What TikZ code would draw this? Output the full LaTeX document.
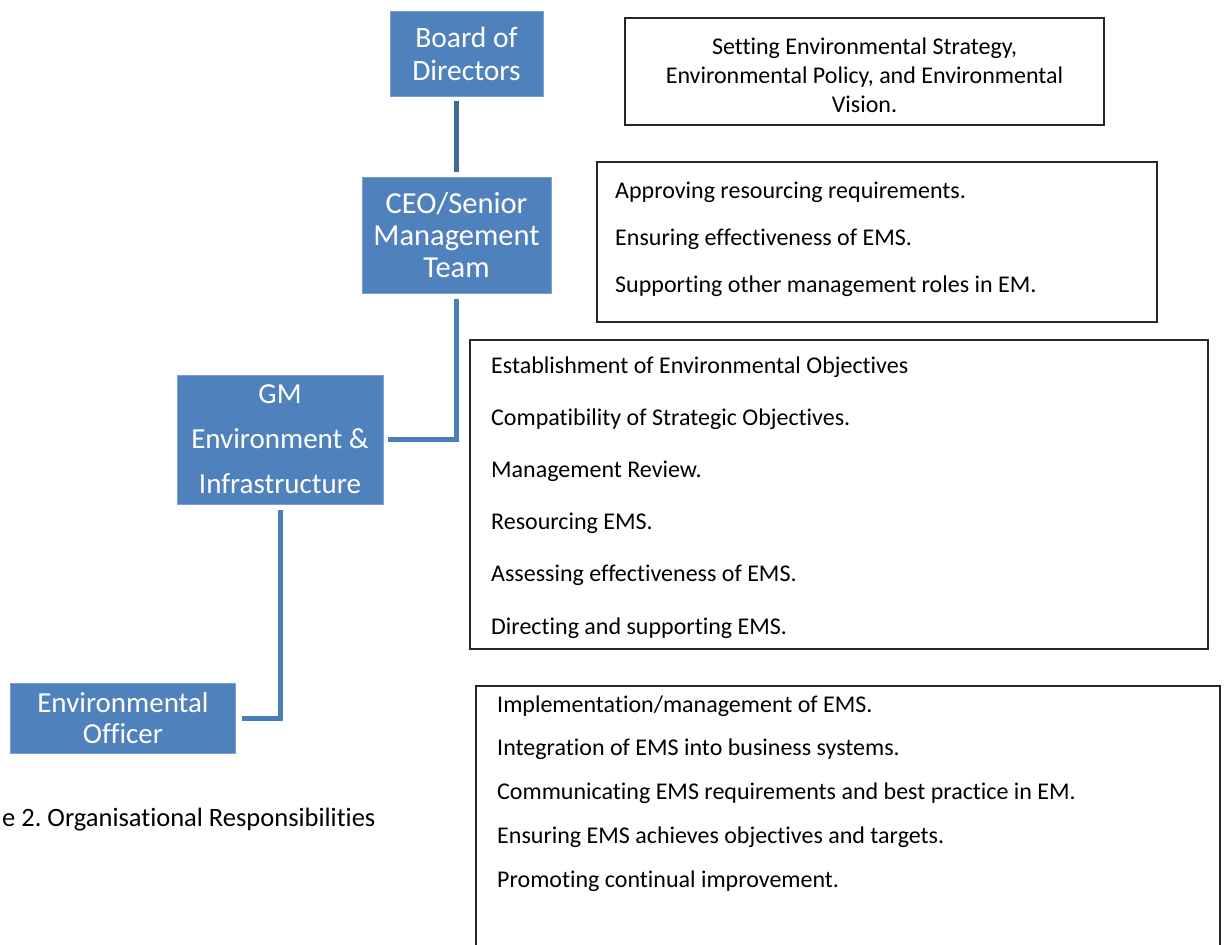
\documentclass[tikz,border=0pt]{standalone}
\usepackage{fontspec}
\setmainfont[Ligatures=NoCommon]{Carlito}
\usepackage{xcolor}
\frenchspacing
\definecolor{roleblue}{HTML}{4F81BD}
\definecolor{linkblue}{HTML}{4A7EBB}
\definecolor{darklink}{HTML}{3E6A9C}
\tikzstyle{role}=[fill=roleblue, draw=roleblue!75!white, line width=0.8pt, text=white, align=center, inner sep=0pt]
\tikzstyle{duty box}=[draw=black!85, line width=1.3pt, inner sep=0pt, fill=none]
\tikzstyle{duty}=[anchor=base west, inner sep=0pt, font=\fontsize{24}{28}\selectfont]
\tikzstyle{link}=[-, draw=linkblue, line width=5pt]
\tikzstyle{dark link}=[-, draw=darklink, line width=5pt]
\pgfdeclarelayer{nodelayer}
\pgfdeclarelayer{edgelayer}
\pgfsetlayers{edgelayer,nodelayer,main}

\begin{document}
\begin{tikzpicture}[x=1pt, y=-1pt]
	\useasboundingbox (0, 0) rectangle (1224, 945);
	\begin{pgfonlayer}{nodelayer}
		% roles
		\node [style=role, minimum width=153, minimum height=85, font=\fontsize{29.5}{33}\selectfont] (1) at (466.5, 53.5) {Board of\\Directors};
		\node [style=role, minimum width=189, minimum height=116, font=\fontsize{30.5}{32}\selectfont] (2) at (456.5, 235) {CEO/Senior\\Management\\Team};
		\node [style=role, minimum width=206, minimum height=129, font=\fontsize{29}{45}\selectfont] (3) at (280, 439.5) {GM\\Environment \&\\ Infrastructure};
		\node [style=role, minimum width=225, minimum height=70, font=\fontsize{29}{31}\selectfont] (4) at (123, 718) {Environmental\\Officer};
		% responsibility boxes
		\node [style=duty box, line width=1.8pt, minimum width=479, minimum height=107] (5) at (864.5, 71.5) {};
		\node [style=duty box, minimum width=560, minimum height=160] (6) at (877, 242) {};
		\node [style=duty box, minimum width=738, minimum height=309] (7) at (839, 494.5) {};
		\node [style=duty box, minimum width=744, minimum height=290] (8) at (848, 831) {};
		% texts
		\node [style=duty, anchor=base] (10) at (864.5, 54) {Setting Environmental Strategy,};
		\node [style=duty, anchor=base] (11) at (864.5, 83) {Environmental Policy, and Environmental};
		\node [style=duty, anchor=base] (12) at (864.5, 112) {Vision.};
		\node [style=duty] (20) at (615, 198) {Approving resourcing requirements.};
		\node [style=duty] (21) at (615, 245) {Ensuring effectiveness of EMS.};
		\node [style=duty] (22) at (615, 292) {Supporting other management roles in EM.};
		\node [style=duty] (30) at (491, 373) {Establishment of Environmental Objectives};
		\node [style=duty] (31) at (491, 425.2) {Compatibility of Strategic Objectives.};
		\node [style=duty] (32) at (491, 477.4) {Management Review.};
		\node [style=duty] (33) at (491, 529.6) {Resourcing EMS.};
		\node [style=duty] (34) at (491, 581.8) {Assessing effectiveness of EMS.};
		\node [style=duty] (35) at (491, 634) {Directing and supporting EMS.};
		\node [style=duty] (40) at (497, 712) {Implementation/management of EMS.};
		\node [style=duty] (41) at (497, 755.75) {Integration of EMS into business systems.};
		\node [style=duty] (42) at (497, 799.5) {Communicating EMS requirements and best practice in EM.};
		\node [style=duty] (43) at (497, 843.25) {Ensuring EMS achieves objectives and targets.};
		\node [style=duty] (44) at (497, 887) {Promoting continual improvement.};
		% caption
		\node [style=duty, font=\fontsize{26.5}{30}\selectfont] (50) at (2, 826) {e 2. Organisational Responsibilities};
	\end{pgfonlayer}
	\begin{pgfonlayer}{edgelayer}
		\draw [style=dark link, shorten <=5pt, shorten >=5pt] (1.south -| 2.north) -- (2.north);
		\draw [style=link, shorten <=5pt, shorten >=6pt] (3.east) -| (2.south);
		\draw [style=link, shorten <=6pt, shorten >=6pt] (4.east) -| (3.south);
	\end{pgfonlayer}
\end{tikzpicture}
\end{document}
